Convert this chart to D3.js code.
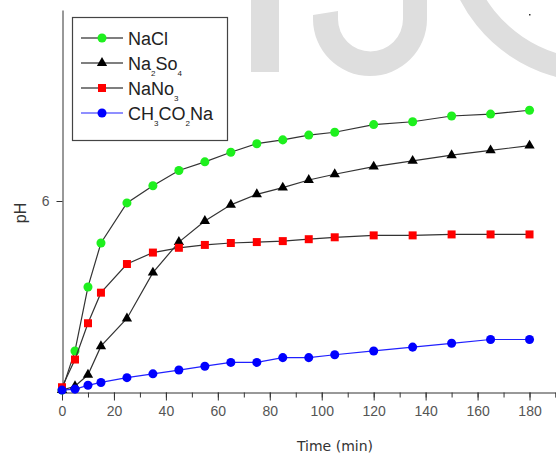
<!DOCTYPE html>
<html>
<head>
<meta charset="utf-8">
<script src="https://cdn.jsdelivr.net/npm/d3@7"></script>
<style>
  body { margin: 0; background: #fff; }
  svg { display: block; }
  .tickLbl { font-family: "Liberation Sans", Arial, sans-serif; font-size: 14px; fill: #555; }
  .legendTxt { font-family: "Liberation Sans", Arial, sans-serif; font-size: 18px; fill: #222; }
</style>
</head>
<body>
<svg id="chart" width="556" height="454"></svg>
<script>
// sampling times (min)
const times = [0, 5, 10, 15, 25, 35, 45, 55, 65, 75, 85, 95, 105, 120, 135, 150, 165, 180];

// pH readings
const naCl     = [4.02, 4.43, 5.10, 5.56, 5.98, 6.16, 6.32, 6.41, 6.51, 6.60, 6.64, 6.69, 6.72, 6.80, 6.83, 6.89, 6.91, 6.95];
const na2So4   = [4.02, 4.06, 4.18, 4.48, 4.77, 5.25, 5.57, 5.79, 5.96, 6.07, 6.14, 6.22, 6.28, 6.36, 6.42, 6.48, 6.53, 6.58];
const naNo3    = [4.05, 4.34, 4.72, 5.04, 5.34, 5.46, 5.51, 5.54, 5.56, 5.57, 5.58, 5.60, 5.62, 5.64, 5.64, 5.65, 5.65, 5.65];
const ch3co2Na = [4.02, 4.03, 4.07, 4.10, 4.15, 4.19, 4.23, 4.27, 4.31, 4.31, 4.36, 4.36, 4.39, 4.43, 4.47, 4.51, 4.55, 4.55];

const xTicksMajor = [0, 20, 40, 60, 80, 100, 120, 140, 160, 180];
const xTicksMinor = [0, 10, 20, 30, 40, 50, 60, 70, 80, 90, 100, 110, 120, 130, 140, 150, 160, 170, 180, 190];
const yTicks = [6];

// legend label pieces: [text, isSubscript]
const seriesDefs = [
    { name: [["NaCl", false]], values: naCl, shape: d3.symbolCircle, size: 64, fill: "#1ef01e", line: "#333" },
    { name: [["Na", false], ["2", true], ["So", false], ["4", true]], values: na2So4, shape: d3.symbolTriangle, size: 46, fill: "#000", line: "#333" },
    { name: [["NaNo", false], ["3", true]], values: naNo3, shape: d3.symbolSquare, size: 64, fill: "#f00", line: "#333" },
    { name: [["CH", false], ["3", true], ["CO", false], ["2", true], ["Na", false]], values: ch3co2Na, shape: d3.symbolCircle, size: 64, fill: "#00f", line: "#2020ff" }
];

const svg = d3.select("#chart");

// faint watermark letters behind the plot
const wm = svg.append("g").attr("fill", "#dedede");
wm.append("rect").attr("x", 251).attr("y", 0).attr("width", 28).attr("height", 72);
wm.append("path")
    .attr("d", "M313,15 L338,11 L338,19 A32.5,32.5 0 0 0 403,19 L403,0 L427,0 L427,19 A57,57 0 0 1 313,19 Z");
wm.append("path")
    .attr("d", d3.arc().innerRadius(129).outerRadius(152).startAngle(-Math.PI * 0.62).endAngle(-Math.PI))
    .attr("transform", "translate(595,-70)");
svg.append("rect").attr("x", 529).attr("y", 14).attr("width", 1.5).attr("height", 1.5).attr("fill", "#333");

const x = d3.scaleLinear().domain([0, 190]).range([62, 555.5]);
const y = d3.scaleLinear().domain([4, 8]).range([392, 10]);

// x axis: minor ticks then major ticks with labels
const gxMinor = svg.append("g").attr("transform", "translate(0,392.5)")
    .call(d3.axisBottom(x).tickValues(xTicksMinor).tickSize(5).tickFormat(""));
gxMinor.select(".domain").attr("stroke", "#333");
gxMinor.selectAll(".tick line").attr("stroke", "#333");

const gx = svg.append("g").attr("transform", "translate(0,392.5)")
    .call(d3.axisBottom(x).tickValues(xTicksMajor).tickSize(8).tickPadding(6).tickFormat(d3.format("d")));
gx.select(".domain").remove();
gx.selectAll(".tick line").attr("stroke", "#333");
gx.selectAll(".tick text").attr("class", "tickLbl").attr("font-family", null).attr("font-size", null).attr("fill", null);

const gy = svg.append("g").attr("transform", "translate(62.5,0)")
    .call(d3.axisLeft(y).tickValues(yTicks).tickSize(6).tickPadding(7).tickSizeOuter(0).tickFormat(d3.format("d")));
gy.select(".domain").attr("stroke", "#333");
gy.selectAll(".tick line").attr("stroke", "#333");
gy.selectAll(".tick text").attr("class", "tickLbl").attr("font-family", null).attr("font-size", null).attr("fill", null);

svg.append("text")
    .attr("x", 335).attr("y", 451)
    .attr("text-anchor", "middle")
    .attr("font-family", "DejaVu Sans, sans-serif")
    .attr("font-size", 14)
    .attr("fill", "#333")
    .text("Time (min)");

svg.append("text")
    .attr("transform", "translate(26,213) rotate(-90)")
    .attr("text-anchor", "middle")
    .attr("font-family", "Liberation Sans, Arial, sans-serif")
    .attr("font-size", 16)
    .attr("fill", "#333")
    .text("pH");

// series
const line = d3.line().x((d, i) => x(times[i])).y(d => y(d));

seriesDefs.forEach(function(s) {
    const g = svg.append("g");
    g.append("path")
        .datum(s.values)
        .attr("fill", "none")
        .attr("stroke", s.line)
        .attr("stroke-width", 1.2)
        .attr("d", line);
    g.selectAll("path.mk")
        .data(s.values)
        .join("path")
        .attr("class", "mk")
        .attr("transform", (d, i) => "translate(" + x(times[i]) + "," + y(d) + ")")
        .attr("d", d3.symbol().type(s.shape).size(s.size))
        .attr("fill", s.fill);
});

// legend
const lg = svg.append("g");
lg.append("rect")
    .attr("x", 72.5).attr("y", 17.5).attr("width", 155).attr("height", 123)
    .attr("fill", "#fff").attr("stroke", "#444").attr("stroke-width", 1.2);

seriesDefs.forEach(function(s, i) {
    const cy = 38 + i * 25;
    lg.append("line")
        .attr("x1", 81).attr("x2", 123).attr("y1", cy).attr("y2", cy)
        .attr("stroke", i == 3 ? s.line : "#000").attr("stroke-width", 1.2);
    lg.append("path")
        .attr("transform", "translate(102," + cy + ")")
        .attr("d", d3.symbol().type(s.shape).size(s.size))
        .attr("fill", s.fill);
    const t = lg.append("text").attr("class", "legendTxt").attr("x", 128).attr("y", cy + 6.5);
    let down = false;
    s.name.forEach(function(p) {
        const ts = t.append("tspan").text(p[0]);
        if (p[1]) {
            ts.attr("font-size", 8).attr("dy", 6);
            down = true;
        } else if (down) {
            ts.attr("dy", -6);
            down = false;
        }
    });
});
</script>
</body>
</html>
